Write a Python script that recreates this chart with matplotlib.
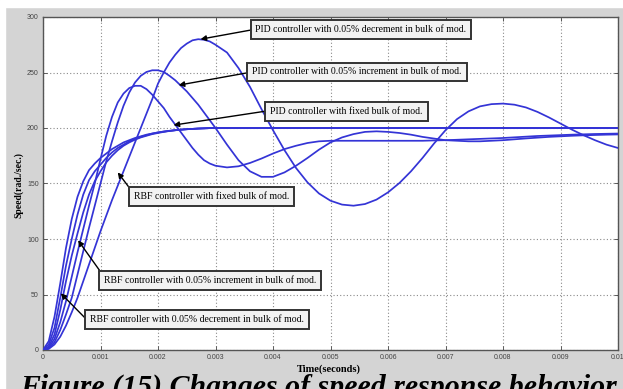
import numpy as np
import matplotlib
matplotlib.use("Agg")
import matplotlib.pyplot as plt
from matplotlib.patches import Rectangle

# sampling grid (seconds)
time_s = np.round(np.concatenate([np.arange(0, 31) * 0.0001,
                                  0.0032 + np.arange(0, 35) * 0.0002]), 5)

pid_decrement = [0, 1, 5, 12, 22, 34, 47, 62, 77, 92, 107,
                 121, 135, 148, 161, 174, 187, 200, 213, 226, 240,
                 250, 259, 266, 272, 276, 279, 280, 279.5, 278, 275,
                 268, 254, 237, 217, 198, 180, 164, 151, 141, 134.5,
                 131, 130, 131.5, 135.5, 142, 150.5, 161, 173, 186, 198,
                 208, 215, 219.5, 221.5, 222, 221, 218.5, 214.5, 209.5, 204,
                 198.5, 193.5, 189, 185, 182]

pid_increment = [0, 1.5, 7, 18, 32, 47, 68, 89, 110, 130, 150,
                 170, 188, 205, 220, 232, 241, 247, 250.5, 252, 252,
                 250.5, 247, 243, 238, 233, 227, 221, 214, 207, 200,
                 185, 171, 161, 156, 156, 160, 166, 173, 180.5, 187,
                 191.5, 194.5, 196.5, 197, 196.5, 195.5, 194, 192, 190.5, 189,
                 188.5, 188, 188, 188.5, 189, 189.8, 190.6, 191.3, 192, 192.5,
                 193, 193.4, 193.7, 194, 194.2]

pid_fixed = [0, 2, 10, 25, 44, 66, 88, 109, 130, 150, 172,
             193, 210, 223, 231, 236, 238, 238, 235, 230, 224,
             218, 210, 203, 196, 189, 182, 176, 171, 168, 166,
             164.5, 165.5, 168.5, 172.5, 177, 181, 184, 186.5, 188, 188.5,
             188.5, 188.5, 188.5, 188.5, 188.5, 188.5, 188.5, 188.5, 188.8, 189,
             189.4, 189.8, 190.2, 190.6, 191, 191.6, 192.2, 192.8, 193.2, 193.6,
             194, 194.3, 194.6, 194.8, 195]

rbf_fixed = [0, 3, 14, 36, 62, 85, 105, 124, 140, 152, 161,
             169, 175, 180, 184, 187, 189.5, 191.5, 193, 194.5, 195.5,
             196.5, 197.3, 198, 198.5, 198.9, 199.2, 199.5, 199.7, 199.9, 200] + [200] * 35

rbf_increment = [0, 5, 20, 47, 76, 100, 122, 140, 153, 161, 167,
                 173, 178, 182, 185, 188, 190, 192, 193.5, 195, 196,
                 196.8, 197.5, 198, 198.5, 198.9, 199.2, 199.5, 199.7, 199.9, 200] + [200] * 35

rbf_decrement = [0, 8, 30, 60, 92, 118, 138, 152, 162, 168, 173,
                 177, 181, 184, 187, 189, 191, 192.5, 194, 195, 196,
                 196.8, 197.4, 198, 198.5, 198.9, 199.2, 199.5, 199.7, 199.9, 200] + [200] * 35

x_ticks = [0, 0.001, 0.002, 0.003, 0.004, 0.005, 0.006, 0.007, 0.008, 0.009, 0.01]
x_tick_labels = ["0", "0.001", "0.002", "0.003", "0.004", "0.005",
                 "0.006", "0.007", "0.008", "0.009", "0.01"]
y_ticks = [0, 50, 100, 150, 200, 250, 300]
y_tick_labels = ["0", "50", "100", "150", "200", "250", "300"]

labels = ["PID controller with 0.05% decrement in bulk of mod.",
          "PID controller with 0.05% increment in bulk of mod.",
          "PID controller with fixed bulk of mod.",
          "RBF controller with fixed bulk of mod.",
          "RBF controller with 0.05% increment in bulk of mod.",
          "RBF controller with 0.05% decrement in bulk of mod."]
arrow_tips_t = [0.00274, 0.00236, 0.00227, 0.0013, 0.00061, 0.00031]
arrow_tips_v = [280, 238.6, 202.6, 160, 98.8, 51]

# layout (box centres in data coords, arrow start on box)
box_t = [0.00553, 0.00546, 0.00528, 0.00293, 0.00291, 0.00268]
box_v = [289, 250.5, 215, 138, 62.7, 27.5]
box_relpos = [(0, 0.5), (0, 0.5), (0, 0.6), (0, 0.85), (0, 0.9), (0, 0.1)]

W, H = 623, 389
fig = plt.figure(figsize=(W / 100, H / 100), dpi=100, facecolor="#d4d4d4")
fig.patches.append(Rectangle((0, 1 - 7 / H), 1, 7 / H, transform=fig.transFigure,
                             color="white", zorder=-5))
fig.patches.append(Rectangle((0, 0), 5 / W, 1, transform=fig.transFigure,
                             color="white", zorder=-5))

ax = fig.add_axes([43 / W, 1 - 350 / H, (618 - 43) / W, (350 - 17) / H])
ax.set_facecolor("white")

line_color = "#3434d6"
for series in [pid_decrement, pid_increment, pid_fixed,
               rbf_fixed, rbf_increment, rbf_decrement]:
    ax.plot(time_s, series, color=line_color, lw=1.25, zorder=3)

ax.set_xlim(0, 0.01)
ax.set_ylim(0, 300)
ax.set_xticks(x_ticks)
ax.set_xticklabels(x_tick_labels)
ax.set_yticks(y_ticks)
ax.set_yticklabels(y_tick_labels)
ax.tick_params(direction="in", length=3, width=0.6, colors="#444444",
               labelsize=5, pad=3, top=True, right=True)
for lab in ax.get_xticklabels() + ax.get_yticklabels():
    lab.set_family("Liberation Sans")
ax.grid(True, color="#8a8a8a", lw=0.8, linestyle=(0, (1, 2)))
for sp in ax.spines.values():
    sp.set_color("#555555")
    sp.set_linewidth(1.0)

for txt, tt, tv, bt, bv, rp in zip(labels, arrow_tips_t, arrow_tips_v,
                                   box_t, box_v, box_relpos):
    ax.annotate(txt, xy=(tt, tv), xytext=(bt, bv), textcoords="data",
                ha="center", va="center", fontsize=7, family="Liberation Serif",
                zorder=5,
                bbox=dict(boxstyle="square,pad=0.5", fc="#f2f2f2", ec="#333333", lw=1.4),
                arrowprops=dict(arrowstyle="-|>", color="black", lw=1.0,
                                mutation_scale=8, relpos=rp, shrinkA=0, shrinkB=0))

fig.text(18.5 / W, 1 - 185 / H, "Speed(rad./sec.)", rotation=90, ha="center", va="center",
         fontsize=7, fontweight="bold", family="Liberation Serif")
fig.text(329 / W, 1 - 369 / H, "Time(seconds)", ha="center", va="center",
         fontsize=7.5, fontweight="bold", family="Liberation Serif")
fig.text(20 / W, 1 - 395 / H, "Figure (15) Changes of speed response behavior",
         ha="left", va="baseline", fontsize=21.5, fontweight="bold", fontstyle="italic",
         family="Liberation Serif")

fig.savefig("out.png", dpi=100, facecolor=fig.get_facecolor())
